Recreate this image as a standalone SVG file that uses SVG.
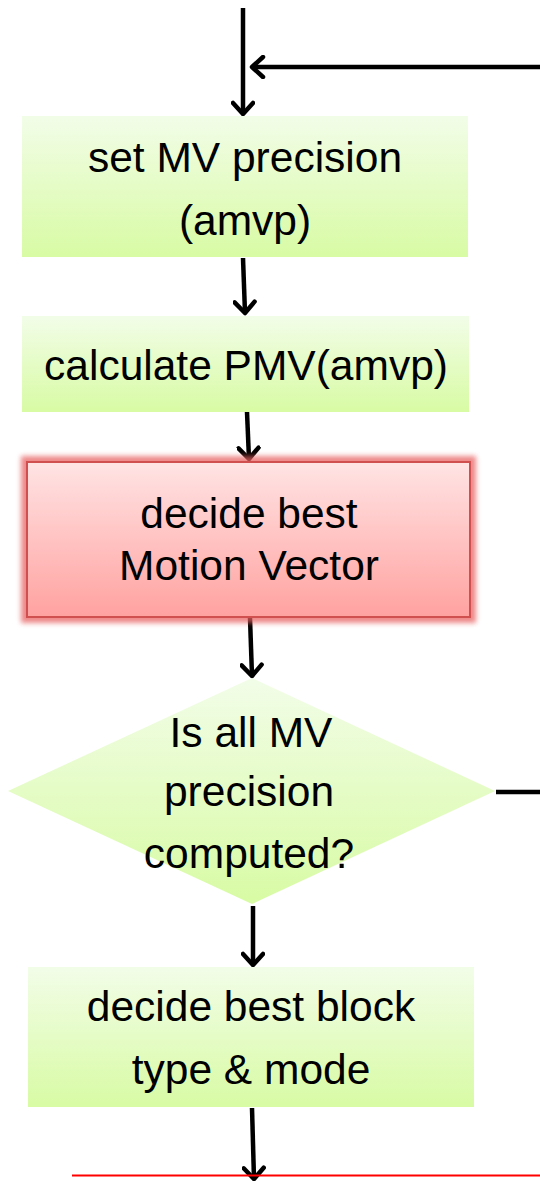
<svg xmlns="http://www.w3.org/2000/svg" width="540" height="1181" viewBox="0 0 540 1181">
<defs>
<linearGradient id="gGreen" x1="0" y1="0" x2="0" y2="1">
<stop offset="0" stop-color="#f2fde8"/>
<stop offset="1" stop-color="#d8fba4"/>
</linearGradient>
<linearGradient id="gRed" x1="0" y1="0" x2="0" y2="1">
<stop offset="0" stop-color="#ffe4e4"/>
<stop offset="1" stop-color="#ffa2a0"/>
</linearGradient>
<filter id="glow" x="-10%" y="-20%" width="120%" height="140%">
<feGaussianBlur stdDeviation="2.5"/>
</filter>
<marker id="arr" viewBox="0 0 24 24" refX="21" refY="12" markerWidth="24" markerHeight="24" markerUnits="userSpaceOnUse" orient="auto">
<path d="M10,2 L21,12 L10,22" fill="none" stroke="#000" stroke-width="4.5" stroke-linecap="round" stroke-linejoin="round"/>
</marker>
</defs>
<style>
text{font-family:"Liberation Sans",Arial,sans-serif;font-size:42.5px;fill:#000;text-anchor:middle}
.c{fill:none;stroke:#000;stroke-width:4.5;stroke-linecap:butt}
</style>
<rect width="540" height="1181" fill="#fff"/>
<g id="connectors">
<path class="c" d="M243,8 L243,114" marker-end="url(#arr)"/>
<path class="c" d="M540,67 L252,67" marker-end="url(#arr)"/>
<path class="c" d="M243,258 L245,313" marker-end="url(#arr)"/>
<path class="c" d="M247,412 L249,459" marker-end="url(#arr)"/>
<path class="c" d="M250,618 L252,676" marker-end="url(#arr)"/>
<path class="c" d="M496,792 L540,792"/>
<path class="c" d="M253,906 L253,965" marker-end="url(#arr)"/>
<path class="c" d="M252,1108 L254,1179" marker-end="url(#arr)"/>
</g>
<g id="n1">
<rect x="22" y="116" width="446" height="141" fill="url(#gGreen)"/>
<text x="245" y="172">set MV precision</text>
<text x="245" y="235">(amvp)</text>
</g>
<g id="n2">
<rect x="22" y="316" width="447" height="96" fill="url(#gGreen)"/>
<text x="246" y="380">calculate PMV(amvp)</text>
</g>
<g id="n3">
<rect x="21" y="456" width="455" height="167" fill="#e86060" opacity="0.75" filter="url(#glow)"/>
<rect x="27" y="462" width="443" height="155" fill="url(#gRed)" stroke="#d05050" stroke-width="2"/>
<text x="249" y="528">decide best</text>
<text x="249" y="580">Motion Vector</text>
</g>
<g id="n4">
<polygon points="252,678 495,791 252,904 8,791" fill="url(#gGreen)"/>
<text x="251" y="747">Is all MV</text>
<text x="249" y="806">precision</text>
<text x="249" y="868">computed?</text>
</g>
<g id="n5">
<rect x="28" y="967" width="446" height="140" fill="url(#gGreen)"/>
<text x="251" y="1021">decide best block</text>
<text x="251" y="1084">type &amp; mode</text>
</g>
<line x1="72" y1="1175.5" x2="540" y2="1175.5" stroke="#ff0000" stroke-width="2"/>
</svg>
